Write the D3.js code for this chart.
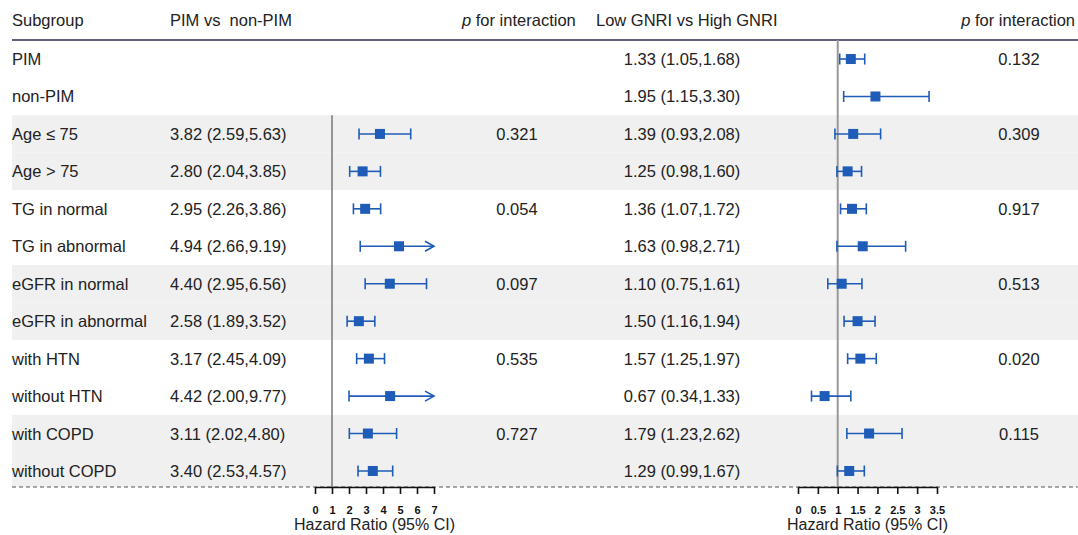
<!DOCTYPE html>
<html>
<head>
<meta charset="utf-8">
<script src="https://cdn.jsdelivr.net/npm/d3@7"></script>
<style>
  body { margin: 0; background: #fff; }
  svg { font-family: "Liberation Sans", Arial, sans-serif; }
</style>
</head>
<body>
<div id="chart"></div>
<script>
// DATA
const subgroups = ["PIM", "non-PIM", "Age \u2264 75", "Age > 75", "TG in normal", "TG in abnormal",
  "eGFR in normal", "eGFR in abnormal", "with HTN", "without HTN", "with COPD", "without COPD"]

// PIM vs non-PIM (null for PIM / non-PIM rows)
const pimHR = [null, null, 3.82, 2.80, 2.95, 4.94, 4.40, 2.58, 3.17, 4.42, 3.11, 3.40]
const pimLo = [null, null, 2.59, 2.04, 2.26, 2.66, 2.95, 1.89, 2.45, 2.00, 2.02, 2.53]
const pimHi = [null, null, 5.63, 3.85, 3.86, 9.19, 6.56, 3.52, 4.09, 9.77, 4.80, 4.57]
const pimP = ["", "", "0.321", "", "0.054", "", "0.097", "", "0.535", "", "0.727", ""]

// Low GNRI vs High GNRI
const gnriHR = [1.33, 1.95, 1.39, 1.25, 1.36, 1.63, 1.10, 1.50, 1.57, 0.67, 1.79, 1.29]
const gnriLo = [1.05, 1.15, 0.93, 0.98, 1.07, 0.98, 0.75, 1.16, 1.25, 0.34, 1.23, 0.99]
const gnriHi = [1.68, 3.30, 2.08, 1.60, 1.72, 2.71, 1.61, 1.94, 1.97, 1.33, 2.62, 1.67]
const gnriP = ["0.132", "", "0.309", "", "0.917", "", "0.513", "", "0.020", "", "0.115", ""]

const pimTicks = [0, 1, 2, 3, 4, 5, 6, 7]
const gnriTicks = [0, 0.5, 1, 1.5, 2, 2.5, 3, 3.5]
const shadedRows = [2, 3, 6, 7, 10, 11]

// DIMENSIONS
const width = 1078
const height = 535
const left = 12
const headerY = 40
const axisY = 487
const blue = "#1f5cb8"
const textColor = "#222"

const wrapper = d3.select("#chart").append("svg")
  .attr("width", width)
  .attr("height", height)

const yScale = d3.scaleBand()
  .domain(d3.range(subgroups.length))
  .range([40.3, 489.7])
const yc = i => yScale(i) + yScale.bandwidth() / 2

const xPim = d3.scaleLinear().domain([0, 7]).range([315, 434])
const xGnri = d3.scaleLinear().domain([0, 3.5]).range([798, 937])

// shaded bands
wrapper.append("g")
  .selectAll("rect")
  .data(shadedRows)
  .join("rect")
    .attr("x", left)
    .attr("y", d => yScale(d))
    .attr("width", width - left)
    .attr("height", d => Math.min(yScale.bandwidth(), axisY - yScale(d)))
    .attr("fill", "#f0f0f0")

// header
const header = wrapper.append("g")
  .attr("font-size", 16.5)
  .attr("fill", textColor)
header.append("text").attr("x", 12).attr("y", 26).text("Subgroup")
header.append("text").attr("x", 170).attr("y", 26).text("PIM vs\u00a0 non-PIM")
header.append("text").attr("x", 596).attr("y", 26).text("Low GNRI vs High GNRI")
const pHead = (x, anchor) => {
  const t = header.append("text").attr("x", x).attr("y", 26).attr("text-anchor", anchor)
  t.append("tspan").attr("font-style", "italic").text("p")
  t.append("tspan").text(" for interaction")
}
pHead(462, "start")
pHead(1075, "end")

wrapper.append("line")
  .attr("x1", left).attr("x2", width)
  .attr("y1", headerY).attr("y2", headerY)
  .attr("stroke", "#2b2b4f")
  .attr("stroke-width", 1.5)

// row texts
const rows = wrapper.append("g")
  .attr("font-size", 16.5)
  .attr("fill", textColor)
  .selectAll("g")
  .data(subgroups)
  .join("g")
    .attr("transform", (d, i) => `translate(0, ${yc(i) + 6})`)

rows.append("text").attr("x", 12).text(d => d)
const fmt = d3.format(".2f")
rows.append("text").attr("x", 170)
  .text((d, i) => pimHR[i] == null ? "" : `${fmt(pimHR[i])} (${fmt(pimLo[i])},${fmt(pimHi[i])})`)
rows.append("text").attr("x", 517).attr("text-anchor", "middle").text((d, i) => pimP[i])
rows.append("text").attr("x", 682).attr("text-anchor", "middle")
  .text((d, i) => `${fmt(gnriHR[i])} (${fmt(gnriLo[i])},${fmt(gnriHi[i])})`)
rows.append("text").attr("x", 1019).attr("text-anchor", "middle").text((d, i) => gnriP[i])

// dashed bottom line
wrapper.append("line")
  .attr("x1", left).attr("x2", width)
  .attr("y1", axisY).attr("y2", axisY)
  .attr("stroke", "#555")
  .attr("stroke-dasharray", "4,3")

// reference lines
wrapper.append("line")
  .attr("x1", xPim(1)).attr("x2", xPim(1))
  .attr("y1", yScale(2)).attr("y2", axisY)
  .attr("stroke", "#777").attr("stroke-width", 1.5)
wrapper.append("line")
  .attr("x1", xGnri(1)).attr("x2", xGnri(1))
  .attr("y1", headerY).attr("y2", axisY)
  .attr("stroke", "#999").attr("stroke-width", 2)

// forest marks
const drawForest = (xScale, hr, lo, hi) => {
  const maxV = xScale.domain()[1]
  const idx = d3.range(hr.length).filter(i => hr[i] != null)
  const g = wrapper.append("g")
    .attr("stroke", blue)
    .attr("stroke-width", 1.6)
    .attr("fill", "none")
  const rowG = g.selectAll("g")
    .data(idx)
    .join("g")
      .attr("transform", i => `translate(0, ${yc(i)})`)
  rowG.append("line")
    .attr("x1", i => xScale(lo[i]))
    .attr("x2", i => xScale(Math.min(hi[i], maxV)))
  rowG.append("line")
    .attr("x1", i => xScale(lo[i])).attr("x2", i => xScale(lo[i]))
    .attr("y1", -5.5).attr("y2", 5.5)
  rowG.filter(i => hi[i] <= maxV).append("line")
    .attr("x1", i => xScale(hi[i])).attr("x2", i => xScale(hi[i]))
    .attr("y1", -5.5).attr("y2", 5.5)
  rowG.filter(i => hi[i] > maxV).append("path")
    .attr("d", `M${xScale(maxV) - 9},-5 L${xScale(maxV)},0 L${xScale(maxV) - 9},5`)
  rowG.append("rect")
    .attr("x", i => xScale(hr[i]) - 5)
    .attr("y", -5)
    .attr("width", 10)
    .attr("height", 10)
    .attr("fill", blue)
    .attr("stroke", "none")
}
drawForest(xPim, pimHR, pimLo, pimHi)
drawForest(xGnri, gnriHR, gnriLo, gnriHi)

// axes
const drawAxis = (xScale, ticks, fmtTick) => {
  const axis = d3.axisBottom(xScale)
    .tickValues(ticks)
    .tickFormat(fmtTick)
    .tickSize(7)
    .tickSizeOuter(0)
  const g = wrapper.append("g")
    .attr("transform", `translate(0, ${axisY})`)
    .call(axis)
  g.select(".domain").attr("stroke", "#111").attr("stroke-width", 1.6)
  g.selectAll(".tick line").attr("stroke", "#111").attr("stroke-width", 1.6)
  g.selectAll(".tick text")
    .attr("y", 19.5)
    .attr("fill", "#111")
    .attr("font-size", 11)
    .attr("font-weight", "bold")
    .attr("font-family", "Liberation Sans, Arial, sans-serif")
  const mid = d3.mean(xScale.range())
  wrapper.append("text")
    .attr("x", mid)
    .attr("y", 530)
    .attr("text-anchor", "middle")
    .attr("font-size", 16)
    .attr("fill", textColor)
    .text("Hazard Ratio (95% CI)")
}
drawAxis(xPim, pimTicks, d3.format("d"))
drawAxis(xGnri, gnriTicks, d => d)
</script>
</body>
</html>
